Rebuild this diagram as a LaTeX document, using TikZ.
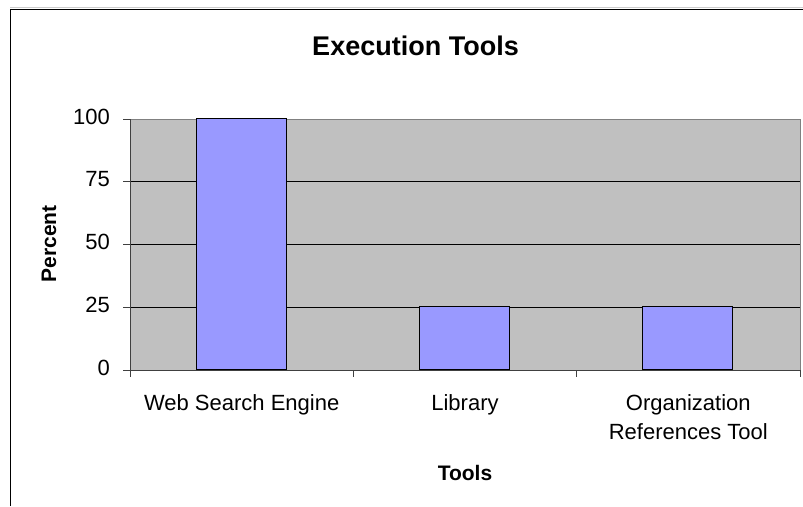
\documentclass[tikz,border=0pt]{standalone}
\usepackage{fontspec}
\setmainfont{Liberation Sans}
\begin{document}
\begin{tikzpicture}[x=1pt,y=-1pt,
  lbl/.style={inner sep=0pt,font=\fontsize{22}{29}\selectfont},
  axtitle/.style={inner sep=0pt,font=\fontsize{21}{26}\selectfont\bfseries},
  ttl/.style={inner sep=0pt,font=\fontsize{27}{32}\selectfont\bfseries},
  barbox/.style={draw=black,line width=1.4pt,fill=barblue},
  grid/.style={draw=black,line width=0.9pt},
  tick/.style={draw=black!75,line width=0.9pt}]
\definecolor{barblue}{RGB}{153,153,255}
\definecolor{plotgray}{RGB}{192,192,192}
\useasboundingbox (0,0) rectangle (803,506);
\fill[white] (0,0) rectangle (803,506);
% outer chart frame
\draw[black!20,line width=0.8pt] (10,7.5) -- (803,7.5);
\draw[black,line width=1pt] (10,506) -- (10,9.3) -- (803,9.3);
% plot area
\fill[plotgray] (130,119) rectangle (800,370);
\draw[black!50,line width=1pt] (130,119) -- (800,119) -- (800,370);
\foreach \yy in {181.75,244.5,307.25} \draw[grid] (130,\yy) -- (800,\yy);
% bars
\node[barbox,minimum width=90pt,minimum height=251pt,anchor=south west,inner sep=0pt] (b1) at (196,370) {};
\node[barbox,minimum width=90pt,minimum height=62.75pt,anchor=south west,inner sep=0pt] (b2) at (419,370) {};
\node[barbox,minimum width=90pt,minimum height=62.75pt,anchor=south west,inner sep=0pt] (b3) at (642,370) {};
% axes
\draw[tick] (130,119) -- (130,377);
\draw[tick] (123,370) -- (800,370);
\foreach \yy in {119,181.75,244.5,307.25} \draw[tick] (123,\yy) -- (130,\yy);
\foreach \xx in {353.3,576.7,800} \draw[tick] (\xx,370) -- (\xx,377);
% title
\node[ttl,anchor=base] (title) at (415.5,55) {Execution Tools};
% y labels
\node[lbl,anchor=base east] (y100) at (110,124) {100};
\node[lbl,anchor=base east] (y75) at (110,186.75) {75};
\node[lbl,anchor=base east] (y50) at (110,249.5) {50};
\node[lbl,anchor=base east] (y25) at (110,312.25) {25};
\node[lbl,anchor=base east] (y0) at (110,375) {0};
% axis titles
\node[axtitle,rotate=90,anchor=base] (ytitle) at (56,244) {Percent};
\node[axtitle,anchor=base] (xtitle) at (465,480) {Tools};
% category labels
\node[lbl,anchor=base] (c1) at (241.7,410) {Web Search Engine};
\node[lbl,anchor=base] (c2) at (465,410) {Library};
\node[lbl,anchor=base] (c3) at (688.3,410) {\begin{tabular}[t]{@{}c@{}}Organization\\References Tool\end{tabular}};
\end{tikzpicture}
\end{document}
